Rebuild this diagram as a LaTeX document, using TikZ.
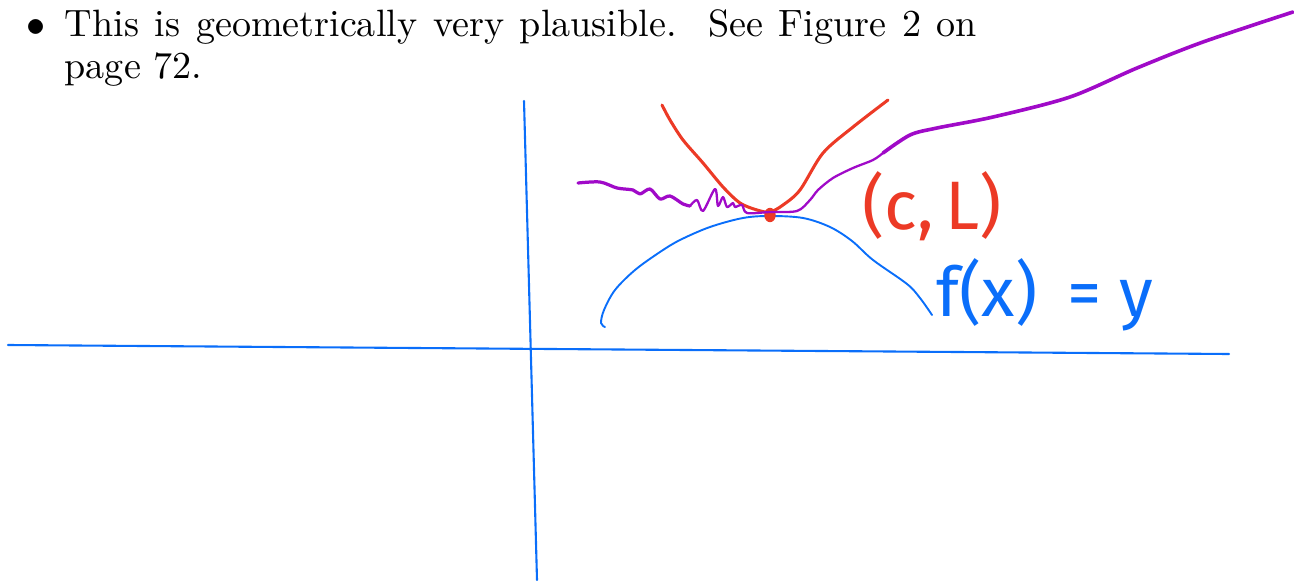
\documentclass[tikz,border=0pt]{standalone}
\usepackage{fontspec}
\newfontfamily\hand{Fira Sans}
\definecolor{penred}{RGB}{236,58,38}
\definecolor{penblue}{RGB}{10,110,250}
\definecolor{penpurple}{RGB}{160,10,200}
\begin{document}
\begin{tikzpicture}[x=0.2625pt,y=-0.2625pt,
  axis/.style={draw=penblue,line width=0.55pt,line cap=round},
  bluepen/.style={draw=penblue,line width=0.5pt,line cap=round,line join=round},
  redpen/.style={draw=penred,line width=0.8pt,line cap=round,line join=round},
  purplepen/.style={draw=penpurple,line cap=round,line join=round},
  bodytext/.style={inner sep=0pt,anchor=base west,font=\fontsize{10}{12}\selectfont}]
\useasboundingbox (0,0) rectangle (1294,581);
% text
\node[bodytext,anchor=base] (bul) at (36,37) {$\bullet$};
\node[bodytext] (line1) at (64,37) {\makebox[239.5pt][s]{This is geometrically very plausible.\ \ See Figure 2 on}};
\node[bodytext] (line2) at (64,79) {page 72.};
% axes
\coordinate (xl) at (8,345);
\coordinate (xr) at (1229,354);
\coordinate (yt) at (524,101);
\coordinate (yb) at (537,580);
\draw[axis] (xl) -- (xr);
\draw[axis] (yt) -- (yb);
% blue curve
\draw[bluepen] plot[smooth,tension=0.55] coordinates {(605,327) (601,323) (604,310) (615,290) (635,270) (660,252) (680,240) (710,227) (743,218) (770,216) (803,218) (830,227) (852,241) (873,260) (907,284) (920,298) (932,315)};
% red V
\draw[redpen] plot[smooth,tension=0.5] coordinates {(662,105) (670,120) (683,140) (703,163) (723,187) (740,203) (757,210) (770,212) (783,205) (800,190) (823,153) (853,127) (888,100)};
\fill[penred] (770,215) ellipse [x radius=1.5pt, y radius=1.9pt];
% purple wiggle
\draw[purplepen,line width=0.85pt] plot[smooth,tension=0.5] coordinates {(578,183) (600,182) (617,188) (633,190) (640,194) (650,189) (660,199) (670,196) (683,204) (690,206)};
\draw[purplepen,line width=0.6pt] plot[smooth,tension=0.5] coordinates {(690,206) (697,200) (703,211) (715,189) (718,206) (723,197) (727,207) (733,203) (735,207) (742,205) (747,213) (770,212) (797,211) (810,200) (818,190) (833,178) (853,168) (873,160) (883,153)};
\draw[purplepen,line width=0.95pt] plot[smooth,tension=0.5] coordinates {(883,153) (910,135) (937,128) (993,117) (1070,97) (1137,68) (1203,42) (1293,12)};
% labels
\node[text=penred,font=\hand\fontsize{18}{20}\selectfont,inner sep=0pt] (cl) at (932,206) {(c,\,L)};
\node[text=penblue,font=\hand\fontsize{18}{20}\selectfont,inner sep=0pt] (fx) at (1045,295) {f(x)\ \,= y};
\end{tikzpicture}
\end{document}
